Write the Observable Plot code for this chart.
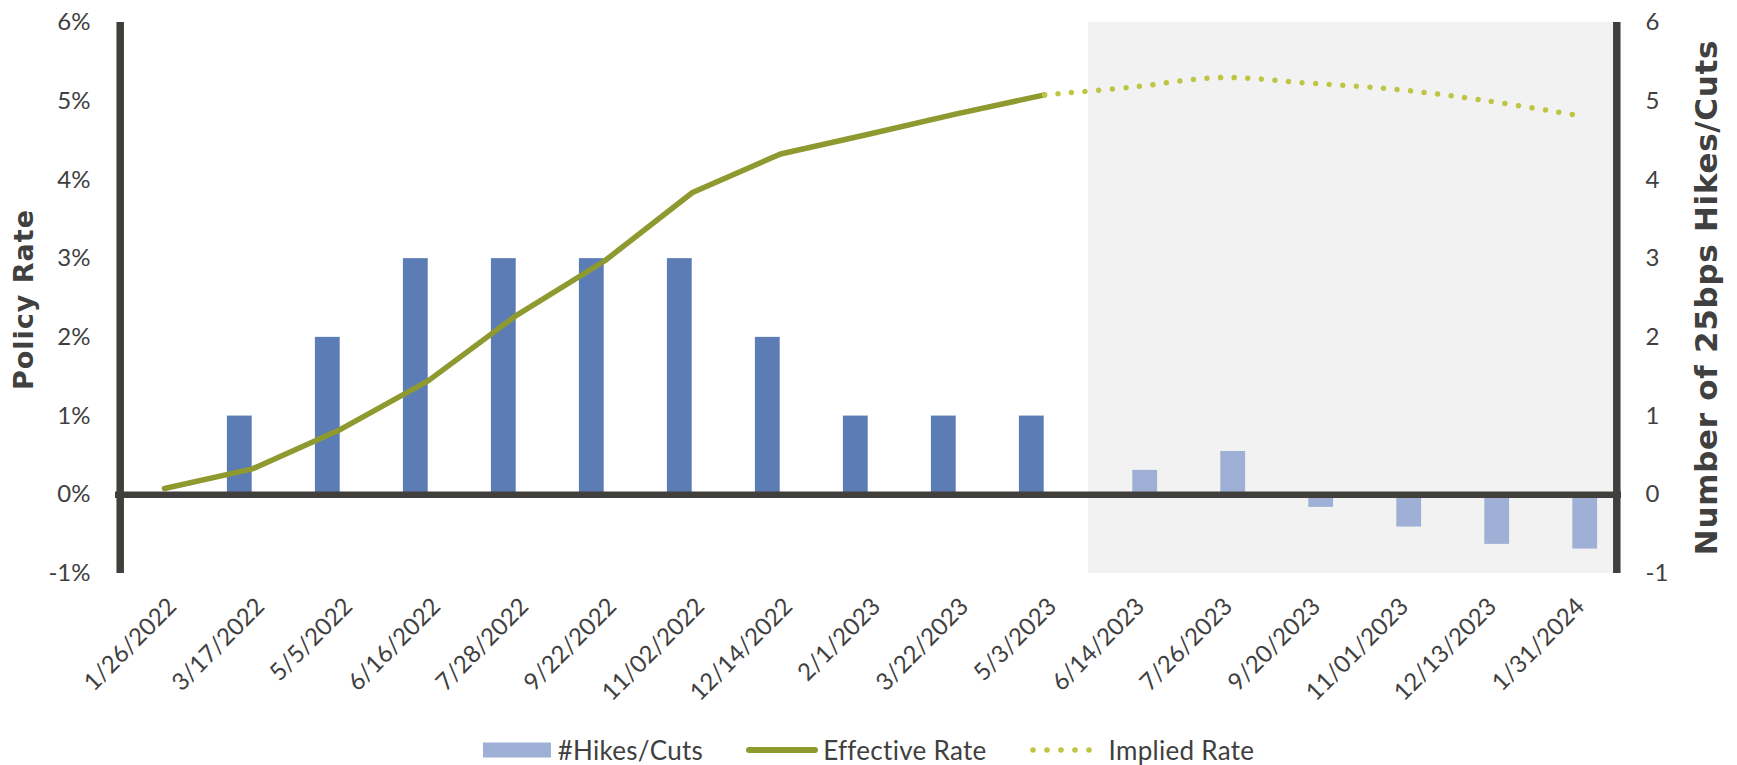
<!DOCTYPE html>
<html>
<head>
<meta charset="utf-8">
<script src="https://cdn.jsdelivr.net/npm/d3@7"></script>
<script src="https://cdn.jsdelivr.net/npm/@observablehq/plot@0.6"></script>
<style>
  html, body { margin: 0; padding: 0; background: #ffffff; }
  #chart svg { display: block; }
  #legend { height: 30px; padding-top: 10px; display: flex; justify-content: center; align-items: center;
            font-family: Lato, sans-serif; font-size: 26px; letter-spacing: 0.3px; color: #404040; }
  .item { display: flex; align-items: center; }
  .item svg { display: block; }
  .gap { width: 43px; }
</style>
</head>
<body>
<div id="chart"></div>
<div id="legend"></div>
<script>
// ---- data ----
const categories = ["1/26/2022","3/17/2022","5/5/2022","6/16/2022","7/28/2022","9/22/2022","11/02/2022","12/14/2022","2/1/2023","3/22/2023","5/3/2023","6/14/2023","7/26/2023","9/20/2023","11/01/2023","12/13/2023","1/31/2024"];
const histDates = ["1/26/2022","3/17/2022","5/5/2022","6/16/2022","7/28/2022","9/22/2022","11/02/2022","12/14/2022","2/1/2023","3/22/2023","5/3/2023"];
const histHikes = [0, 1, 2, 3, 3, 3, 3, 2, 1, 1, 1];
const effectiveRate = [0.08, 0.33, 0.83, 1.45, 2.28, 2.97, 3.84, 4.33, 4.58, 4.84, 5.08];
const projDates = ["6/14/2023","7/26/2023","9/20/2023","11/01/2023","12/13/2023","1/31/2024"];
const projHikes = [0.31, 0.55, -0.16, -0.41, -0.63, -0.69];
const impliedDates = ["5/3/2023","6/14/2023","7/26/2023","9/20/2023","11/01/2023","12/13/2023","1/31/2024"];
const impliedRate = [5.08, 5.18, 5.30, 5.23, 5.15, 5.01, 4.83];
const yTicks = [-1, 0, 1, 2, 3, 4, 5, 6];
const leftTitle = "Policy Rate";
const rightTitle = "Number of 25bps Hikes/Cuts";
const legendLabels = ["#Hikes/Cuts", "Effective Rate", "Implied Rate"];

// ---- layout / style ----
const W = 1737, H = 725;
const mL = 115, mR = 116, mT = 22, mB = 152;
const bw = (W - mL - mR) / categories.length;
const barW = 25.4;
const axisColor = "#403F3B";
const textColor = "#404040";
const darkBar = "#5B7CB5", lightBar = "#9EB0D6";
const effColor = "#8E9A2F", impColor = "#BDC542";

const hist = histDates.map((d, i) => ({date: d, v: histHikes[i], r: effectiveRate[i]}));
const proj = projDates.map((d, i) => ({date: d, v: projHikes[i]}));
const implied = impliedDates.map((d, i) => ({date: d, r: impliedRate[i]}));

const chart = Plot.plot({
  width: W, height: H,
  marginLeft: mL, marginRight: mR, marginTop: mT, marginBottom: mB,
  style: {fontFamily: "Lato, sans-serif", fontSize: "24px", color: textColor, background: "#ffffff"},
  x: {type: "band", domain: categories, padding: 0, axis: null},
  y: {domain: [-1, 6], axis: null},
  marks: [
    Plot.barY(projDates, {x: d => d, y1: -1, y2: 6, fill: "#F2F2F2", inset: 0}),
    Plot.barY(hist, {x: "date", y: "v", fill: darkBar, insetLeft: bw / 2 - barW, insetRight: bw / 2}),
    Plot.barY(proj, {x: "date", y: "v", fill: lightBar, insetLeft: bw / 2, insetRight: bw / 2 - barW}),
    Plot.ruleY([0], {stroke: axisColor, strokeWidth: 6.5}),
    Plot.ruleX([categories[0]], {x: d => d, dx: -bw / 2, y1: -1, y2: 6, stroke: axisColor, strokeWidth: 7.5}),
    Plot.ruleX([categories[categories.length - 1]], {x: d => d, dx: bw / 2, y1: -1, y2: 6, stroke: axisColor, strokeWidth: 7.5}),
    Plot.line(hist, {x: "date", y: "r", stroke: effColor, strokeWidth: 5.5, strokeLinecap: "round", strokeLinejoin: "round"}),
    Plot.line(implied, {x: "date", y: "r", stroke: impColor, strokeWidth: 5.5, strokeLinecap: "round",
      strokeDasharray: "0.01 13.6", curve: "catmull-rom"}),
    Plot.axisY(yTicks, {anchor: "left", tickSize: 0, tickPadding: 25, tickFormat: d => d + "%", label: null, fontSize: 24, fill: textColor}),
    Plot.axisY(yTicks, {anchor: "right", tickSize: 0, tickPadding: 24, tickFormat: d => String(d), label: null, fontSize: 24, fill: textColor, textAnchor: "start"}),
    Plot.text(categories, {x: d => d, frameAnchor: "bottom", rotate: -45, textAnchor: "end", lineAnchor: "middle",
      dx: 8, dy: 29, fontSize: 24, fill: textColor})
  ]
});
document.getElementById("chart").appendChild(chart);

// axis titles (rotated, reading upward)
const svg = d3.select(chart);
const midY = (mT + (H - mB)) / 2;
svg.append("text")
  .attr("transform", `translate(23,${midY + 2}) rotate(-90)`)
  .attr("text-anchor", "middle").attr("dy", "0.36em")
  .attr("fill", textColor)
  .style("font-family", "DejaVu Sans, sans-serif").style("font-weight", "bold").style("font-size", "27px")
  .style("letter-spacing", "1px")
  .text(leftTitle);
svg.append("text")
  .attr("transform", `translate(1706,${midY}) rotate(-90)`)
  .attr("text-anchor", "middle").attr("dy", "0.36em")
  .attr("fill", textColor)
  .style("font-family", "DejaVu Sans, sans-serif").style("font-weight", "bold").style("font-size", "31px")
  .style("letter-spacing", "0.7px")
  .text(rightTitle);

// ---- legend ----
const legend = document.getElementById("legend");
const svgNS = "http://www.w3.org/2000/svg";
function mk(tag, attrs) {
  const e = document.createElementNS(svgNS, tag);
  for (const k in attrs) e.setAttribute(k, attrs[k]);
  return e;
}
function item(swatch, label, gap) {
  const div = document.createElement("div");
  div.className = "item";
  div.appendChild(swatch);
  const s = document.createElement("span");
  s.style.marginLeft = gap + "px";
  s.textContent = label;
  div.appendChild(s);
  return div;
}
const sw1 = mk("svg", {width: 68, height: 16});
sw1.appendChild(mk("rect", {x: 0, y: 0.5, width: 68, height: 15, fill: lightBar}));
const sw2 = mk("svg", {width: 72, height: 10});
sw2.appendChild(mk("line", {x1: 3, y1: 5, x2: 69, y2: 5, stroke: effColor, "stroke-width": 6, "stroke-linecap": "round"}));
const sw3 = mk("svg", {width: 62, height: 10});
for (let i = 0; i < 5; i++) sw3.appendChild(mk("circle", {cx: 3 + i * 14, cy: 5, r: 2.8, fill: impColor}));
legend.appendChild(item(sw1, legendLabels[0], 7));
let g = document.createElement("div"); g.className = "gap"; legend.appendChild(g);
legend.appendChild(item(sw2, legendLabels[1], 5));
g = document.createElement("div"); g.className = "gap"; legend.appendChild(g);
legend.appendChild(item(sw3, legendLabels[2], 17));
</script>
</body>
</html>
